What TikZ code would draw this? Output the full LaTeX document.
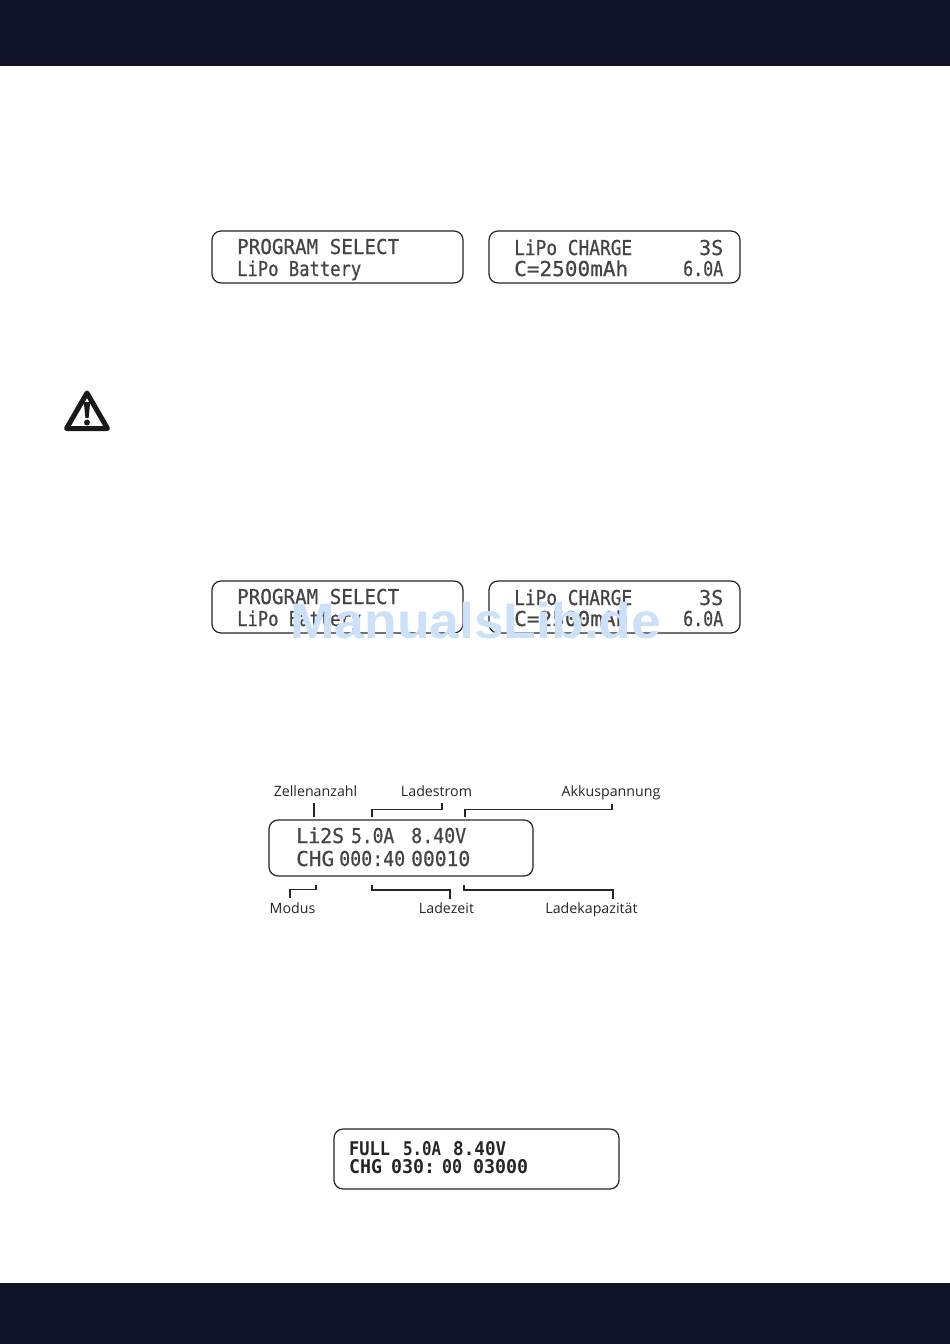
\documentclass[tikz,border=0pt]{standalone}
\usepackage{fontspec}
\usepackage{graphicx}
\setmainfont{Open Sans}
\newfontfamily\lcdfont[FakeBold=0.6]{DejaVu Sans Mono}
\newfontfamily\lcdbold[BoldFont={DejaVu Sans Mono Bold}]{DejaVu Sans Mono}
\newfontfamily\wmfont{Liberation Sans}
\definecolor{barcol}{HTML}{0F1228}
\definecolor{lcdink}{HTML}{444444}
\definecolor{wmblue}{HTML}{CCE0F8}
\newcommand\lcdtxt[2]{\resizebox{#1pt}{1.08\height}{\lcdfont\fontsize{19}{19}\selectfont #2}}
\newcommand\lcdfull[2]{\resizebox{#1pt}{1.05\height}{\lcdbold\bfseries\fontsize{18}{18}\selectfont #2}}
\tikzset{
  lcdbox/.style={draw=black!85,line width=1.2pt,rounded corners=9pt,inner sep=0pt,fill=none},
  lcdline/.style={anchor=base west,inner sep=0pt,text=lcdink},
  fullline/.style={anchor=base west,inner sep=0pt,text=black!85},
  lbl/.style={anchor=base,inner sep=0pt,text=black!85,font=\fontsize{14.2}{14.2}\selectfont},
  lead/.style={draw=black!85,line width=1.3pt},
  bar/.style={fill=barcol,draw=none},
}
\begin{document}
\begin{tikzpicture}[x=1pt,y=-1pt]
\useasboundingbox (0,0) rectangle (950,1344);
\fill[white] (0,0) rectangle (950,1344);
\fill[bar] (0,0) rectangle (950,66);
\fill[bar] (0,1283) rectangle (950,1344);

% first display pair
\node[lcdbox,minimum width=251pt,minimum height=52pt] (d1) at (337.5,257) {};
\node[lcdbox,minimum width=251pt,minimum height=52pt] (d2) at (614.5,257) {};
\node[lcdline] (t1a) at (237,254) {\lcdtxt{162}{PROGRAM SELECT}};
\node[lcdline] (t1b) at (237,276) {\lcdtxt{124}{LiPo Battery}};
\node[lcdline] (t2a) at (514,255) {\lcdtxt{118}{LiPo CHARGE}};
\node[lcdline] (t2b) at (699,255) {\lcdtxt{24}{3S}};
\node[lcdline] (t2c) at (514,276) {\lcdtxt{114}{C=2500mAh}};
\node[lcdline] (t2d) at (683,276) {\lcdtxt{40}{6.0A}};

% warning sign
\draw[line width=5pt,line join=round,fill=white,draw=black!90] (87,393) -- (66.5,428.5) -- (107.5,428.5) -- cycle;
\fill[black!90] (83.8,402) -- (90.2,402) -- (88.6,418) -- (85.4,418) -- cycle;
\fill[black!90] (87,422.5) circle (3pt);

% second display pair
\node[lcdbox,minimum width=251pt,minimum height=52pt] (d3) at (337.5,607) {};
\node[lcdbox,minimum width=251pt,minimum height=52pt] (d4) at (614.5,607) {};
\node[lcdline] (t3a) at (237,604) {\lcdtxt{162}{PROGRAM SELECT}};
\node[lcdline] (t3b) at (237,626) {\lcdtxt{124}{LiPo Battery}};
\node[lcdline] (t4a) at (514,605) {\lcdtxt{118}{LiPo CHARGE}};
\node[lcdline] (t4b) at (699,605) {\lcdtxt{24}{3S}};
\node[lcdline] (t4c) at (514,626) {\lcdtxt{114}{C=2500mAh}};
\node[lcdline] (t4d) at (683,626) {\lcdtxt{40}{6.0A}};
\node[anchor=base west,inner sep=0pt,text=wmblue] (wm) at (290,638)
  {\resizebox{371pt}{\height}{\wmfont\bfseries\fontsize{50}{50}\selectfont ManualsLib.de}};

% labelled display
\node[lcdbox,minimum width=264pt,minimum height=56pt] (d5) at (401,848) {};
\node[lcdline] (t5a) at (296,843) {\lcdtxt{48}{Li2S}};
\node[lcdline] (t5b) at (351,843) {\lcdtxt{43}{5.0A}};
\node[lcdline] (t5c) at (411,843) {\lcdtxt{55}{8.40V}};
\node[lcdline] (t5d) at (296,866) {\lcdtxt{38}{CHG}};
\node[lcdline] (t5e) at (339,866) {\lcdtxt{66}{000:40}};
\node[lcdline] (t5f) at (411,866) {\lcdtxt{59}{00010}};

\node[lbl] (zell) at (315.5,796.5) {Zellenanzahl};
\node[lbl] (lstr) at (436.5,796.5) {Ladestrom};
\node[lbl] (akku) at (611,796.5) {Akkuspannung};
\node[lbl] (modu) at (292.5,913.5) {Modus};
\node[lbl] (lzei) at (446.5,913.5) {Ladezeit};
\node[lbl] (lkap) at (591.5,913.5) {Ladekapazität};

\coordinate (a1) at (314,803); \coordinate (b1) at (314,817);
\coordinate (a2) at (442,803); \coordinate (b2) at (372,817);
\coordinate (a3) at (612,804); \coordinate (b3) at (465,817);
\coordinate (a4) at (290,898); \coordinate (b4) at (316,885);
\coordinate (a5) at (450,899); \coordinate (b5) at (372,885);
\coordinate (a6) at (613,899); \coordinate (b6) at (464,885);
\draw[lead] (a1) -- (b1);
\draw[lead] (a2) -- (442,809.5) -- (372,809.5) -- (b2);
\draw[lead] (a3) -- (612,809.5) -- (465,809.5) -- (b3);
\draw[lead] (a4) -- (290,889.5) -- (316,889.5) -- (b4);
\draw[lead] (a5) -- (450,890) -- (372,890) -- (b5);
\draw[lead] (a6) -- (613,890) -- (464,890) -- (b6);

% last display
\node[lcdbox,minimum width=285pt,minimum height=60pt] (d6) at (476.5,1159) {};
\node[fullline] (t6a) at (349,1155) {\lcdfull{41}{FULL}};
\node[fullline] (t6b) at (403,1155) {\lcdfull{38}{5.0A}};
\node[fullline] (t6c) at (453,1155) {\lcdfull{53}{8.40V}};
\node[fullline] (t6d) at (349,1173) {\lcdfull{33}{CHG}};
\node[fullline] (t6e) at (391,1173) {\lcdfull{44}{030:}};
\node[fullline] (t6f) at (442,1173) {\lcdfull{20}{00}};
\node[fullline] (t6g) at (473,1173) {\lcdfull{55}{03000}};
\end{tikzpicture}
\end{document}
